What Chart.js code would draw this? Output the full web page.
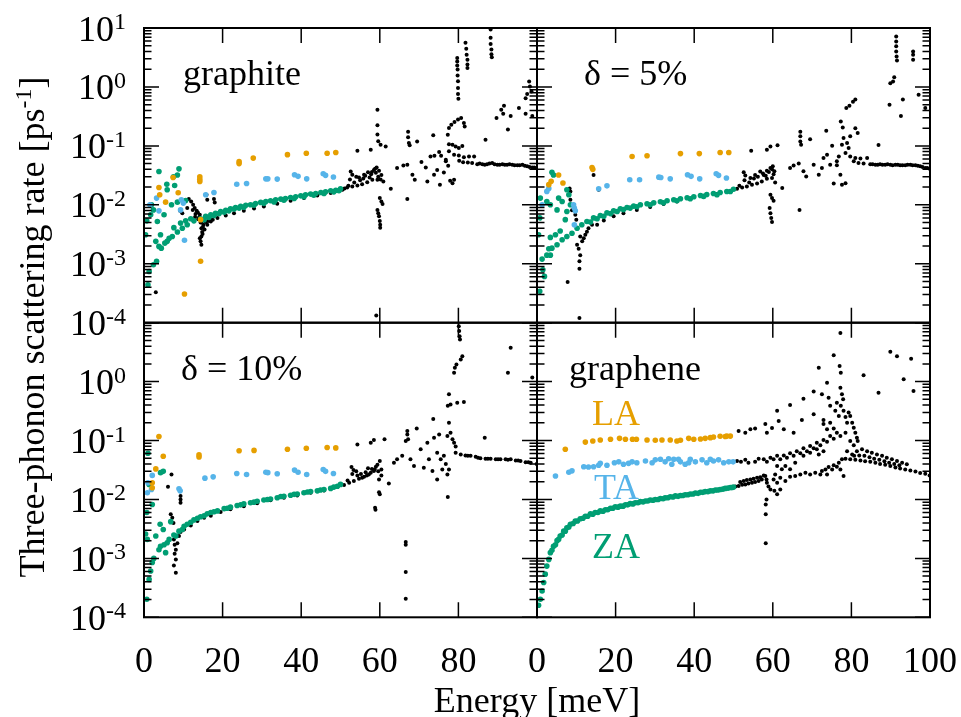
<!DOCTYPE html>
<html>
<head>
<meta charset="utf-8">
<title>Three-phonon scattering rate</title>
<script src="https://cdn.jsdelivr.net/npm/chart.js@4.4.1/dist/chart.umd.min.js"></script>
<style>
  html, body { margin: 0; padding: 0; background: #fff; }
  #page { position: relative; width: 961px; height: 717px; overflow: hidden; }
  #page canvas { position: absolute; left: 0; top: 0; }
</style>
</head>
<body>
<div id="page">
  <canvas id="c-graphite" width="961" height="717"></canvas>
  <canvas id="c-strain5" width="961" height="717"></canvas>
  <canvas id="c-strain10" width="961" height="717"></canvas>
  <canvas id="c-graphene" width="961" height="717"></canvas>
</div>
<script>
// Three-phonon scattering rate vs energy, four panels (graphite, 5%, 10%, graphene)

const LA_COLOR = "#e69f00";
const TA_COLOR = "#56b4e9";
const ZA_COLOR = "#009e73";
const SERIF = "'Liberation Serif', 'Times New Roman', serif";

const X_TICKS = [0, 20, 40, 60, 80, 100];
const X_TICK_LABELS_LEFT = [0, 20, 40, 60, 80];
const X_TICK_LABELS_RIGHT = [0, 20, 40, 60, 80, 100];
const Y_EXPONENTS_TOP = [1, 0, -1, -2, -3, -4];
const Y_EXPONENTS_BOTTOM = [0, -1, -2, -3, -4];

// [energy meV, rate ps^-1]
const graphiteLA = [[3.8,0.0197],[4.0,0.0148],[5.5,0.0111],[7.4,0.029],[8.7,0.016],[10.3,0.000306],[14.2,0.0298],[14.2,0.0272],[14.2,0.0249],[14.4,0.0056],[14.4,0.0011],[24.2,0.054],[24.2,0.050],[27.8,0.062],[36.5,0.071],[41.3,0.075],[46.6,0.075],[48.8,0.077]];
const graphiteTA = [[1.5,0.010],[3.2,0.013],[3.8,0.0079],[9.5,0.0122],[10.0,0.0107],[9.3,0.0082],[10.3,0.0025],[15.7,0.0148],[17.8,0.0162],[23.6,0.0224],[26.1,0.023],[31.0,0.0276],[31.5,0.0276],[33.9,0.0273],[38.3,0.0323],[39.2,0.0304],[41.4,0.0276],[45.6,0.0336],[46.2,0.0316],[48.2,0.0296]];
const graphiteZA = [[3.8,0.0367],[8.9,0.0408],[7.5,0.030],[8.5,0.032],[5.8,0.0224],[5.9,0.018],[7.8,0.0213],[1.9,0.010],[2.4,0.0082],[1.7,0.0068],[0.7,0.00535],[0.4,0.0031],[3.4,0.0052],[5.1,0.0068],[7.0,0.010],[8.5,0.0111],[10.6,0.0118],[4.2,0.0031],[3.0,0.0024],[3.8,0.00197],[5.3,0.00224],[6.4,0.0027],[1.0,0.00044],[1.3,0.00074],[2.4,0.00096],[3.2,0.0011],[4.4,0.00184],[5.9,0.0024],[7.2,0.0029],[8.5,0.00345],[9.75,0.004],[11.0,0.0046],[12.7,0.00535],[7.6,0.0041],[9.3,0.0049],[10.6,0.00535],[11.9,0.0058],
  [14.4,0.0058],[15.7,0.0064],[17.0,0.0068],[18.2,0.0072],[19.5,0.0077],[20.8,0.0081],[22.0,0.0086],[23.3,0.009],[24.6,0.0094],[25.9,0.0098],[27.1,0.0100],[28.4,0.0105],[29.7,0.011],[31.0,0.0114],[32.2,0.0117],[33.5,0.0122],[34.8,0.0125],[36.0,0.0128],[37.3,0.0133],[38.6,0.0137],[39.9,0.0142],[41.1,0.0148],[42.4,0.0152],[43.7,0.0156],[45.0,0.0162],[46.2,0.0166],[47.5,0.0173],[48.8,0.0177],[50.0,0.0187],
  [15.3,0.0056],[16.5,0.0061],[17.8,0.0066],[19.1,0.0071],[20.4,0.0075],[21.6,0.0079],[22.9,0.0085],[24.2,0.0088],[25.4,0.0091],[28.0,0.0099],[30.5,0.0106],[33.1,0.0112],[35.6,0.012],[38.2,0.0128],[40.7,0.0137],[43.2,0.0146],[45.8,0.0156],[48.3,0.0166],[49.6,0.0173]];
const graphiteOther = [[3.0,0.00033],
  [11.4,0.0126],[12.0,0.0114],[12.5,0.010],[12.9,0.0088],[13.4,0.0079],[13.7,0.0074],[14.2,0.0068],[14.8,0.0053],[15.1,0.0046],[14.6,0.004],[14.8,0.00345],[14.6,0.0029],[14.4,0.0024],[14.6,0.0021],[15.7,0.0051],[16.1,0.0046],[16.3,0.0053],[15.9,0.0148],[16.1,0.0122],[17.8,0.0126],[18.0,0.011],[9.2,0.0079],[9.75,0.0072],[11.0,0.0088],[14.0,0.0061],
  [13.0,0.0062],[13.8,0.0057],[14.4,0.0050],[15.0,0.0042],[15.4,0.0038],[14.9,0.0032],[14.2,0.0027],[16.8,0.0058],[17.5,0.0056],[12.4,0.0082],[13.1,0.0070],
  [17.0,0.0052],[18.7,0.006],[20.8,0.0066],[22.9,0.0072],[25.4,0.0079],[28.0,0.0087],[30.5,0.0094],[33.9,0.0104],[37.3,0.0117],[40.7,0.013],[44.1,0.0144],[47.5,0.0158],[50.5,0.018],
  [51.7,0.0197],[53.0,0.0205],[54.3,0.0213],[55.5,0.0224],[56.8,0.0242],[58.1,0.0265],[52.6,0.0367],[53.0,0.0325],[54.7,0.0291],[56.0,0.0325],[57.0,0.0357],[57.8,0.033],[58.5,0.039],[59.2,0.043],[59.8,0.038],[60.4,0.032],[59.4,0.0265],[60.9,0.0249],[62.8,0.0187],[54.3,0.083],[57.7,0.086],
  [51.0,0.019],[52.0,0.021],[52.4,0.027],[53.5,0.024],[54.0,0.030],[55.0,0.026],[55.8,0.028],[56.3,0.031],[57.4,0.029],[58.0,0.036],[58.8,0.041],[59.0,0.035],[59.6,0.030],[60.2,0.027],
  [59.4,0.41],[59.4,0.224],[59.4,0.156],[59.6,0.12],[60.2,0.105],[61.5,0.098],[60.0,0.013],[60.4,0.0114],[60.7,0.0103],[59.4,0.0082],[59.6,0.0072],[59.8,0.0064],[60.0,0.0053],[60.1,0.0046],[60.1,0.0041],[59.1,0.000133],
  [64.4,0.042],[66.0,0.0465],[67.0,0.048],[67.2,0.173],[67.2,0.14],[67.4,0.112],[67.6,0.102],[69.5,0.119],[67.0,0.0126],[68.3,0.0325],[68.9,0.0266],[70.6,0.0535],[71.7,0.043],[72.1,0.0249],[73.6,0.151],[72.9,0.066],[73.9,0.068],[75.1,0.079],[75.6,0.068],[73.8,0.0325],[74.6,0.039],[75.3,0.0218],[76.3,0.0355],[76.8,0.055],[77.4,0.046],[77.9,0.0256],[78.5,0.0233],[78.9,0.0266],
  [77.6,0.202],[78.2,0.229],[79.0,0.255],[79.9,0.279],[80.7,0.297],[81.4,0.245],[81.6,0.214],[77.3,0.155],[77.6,0.107],[78.5,0.105],[79.3,0.098],[80.1,0.092],[81.0,0.10],[77.6,0.081],[78.9,0.071],[80.1,0.069],[81.4,0.064],[82.7,0.066],[84.0,0.066],[76.8,0.058],
  [79.7,3.1],[79.7,2.7],[79.7,2.3],[79.8,1.97],[79.8,1.57],[79.9,1.25],[79.9,0.96],[79.9,0.76],[80.0,0.63],
  [81.8,5.6],[82.0,4.45],[82.1,3.5],[82.3,2.9],[82.3,2.4],[82.3,2.1],
  [88.2,9.4],[88.2,6.8],[88.2,5.35],[88.4,4.3],[88.4,3.6],[88.5,3.2],
  [80.2,0.056],[81.2,0.053],[82.4,0.052],[83.5,0.051],[84.8,0.049],[86.1,0.049],[87.3,0.049],[88.6,0.051],[89.9,0.048],[91.2,0.049],[92.4,0.048],[93.7,0.048],[95.0,0.047],[96.3,0.048],[97.5,0.045],[98.8,0.043],[99.9,0.042],
  [85.4,0.050],[86.7,0.048],[87.9,0.050],[89.2,0.049],[90.5,0.048],[91.8,0.048],[93.0,0.049],[94.3,0.047],[95.6,0.047],[96.9,0.046],[98.1,0.044],[99.3,0.043],
  [86.9,0.127],[89.7,0.297],[90.9,0.41],[91.6,0.48],[91.4,0.35],[92.6,0.19],[93.3,0.32],[95.4,0.44],[97.1,0.35],[97.1,0.64],[97.5,0.76],[98.0,1.24],[98.2,1.02],[98.6,0.84],[98.8,0.32]];

const strain5LA = [[3.0,0.022],[3.6,0.025],[5.5,0.032],[6.6,0.0234],[14.0,0.043],[14.2,0.040],[24.2,0.066],[28.0,0.068],[36.5,0.074],[41.3,0.074],[46.6,0.077],[48.8,0.077]];
const strain5TA = [[1.3,0.010],[2.5,0.0169],[3.0,0.019],[9.3,0.010],[9.5,0.0088],[9.75,0.0079],[9.5,0.0046],[15.7,0.0187],[17.8,0.021],[23.6,0.0266],[26.1,0.0266],[31.0,0.0295],[31.5,0.029],[33.9,0.0276],[38.3,0.0323],[39.2,0.0304],[41.4,0.0276],[45.6,0.0336],[46.2,0.0316],[48.2,0.0285]];
const strain5ZA = [[3.8,0.0357],[4.2,0.032],[0.85,0.013],[0.7,0.0060],[0.4,0.0031],[2.5,0.0114],[3.4,0.010],[5.1,0.0082],[5.5,0.013],[6.4,0.0114],[7.6,0.018],[8.1,0.0148],[8.5,0.010],[7.6,0.0077],[7.2,0.0056],[3.4,0.0028],[4.7,0.0031],[5.9,0.0036],[1.3,0.0012],[1.5,0.00079],[1.9,0.00061],[0.7,0.00034],[2.5,0.0014],[3.4,0.0014],[3.0,0.0018],
  [3.8,0.00184],[5.1,0.0021],[6.4,0.00255],[7.6,0.0029],[8.9,0.0033],[10.2,0.004],[11.4,0.0046],[12.7,0.0052],[14.4,0.006],[16.1,0.0066],[17.8,0.0073],[19.5,0.0079],[21.2,0.0086],[22.9,0.009],[24.6,0.0095],[26.3,0.010],[28.0,0.0104],[29.7,0.0108],[31.4,0.0113],[33.1,0.0117],[34.8,0.0122],[36.5,0.0127],[38.2,0.0132],[39.9,0.0137],[41.6,0.0144],[43.2,0.015],[44.9,0.0156],[46.6,0.0162],[48.3,0.0168],[50.0,0.0184],
  [13.6,0.0051],[15.3,0.0058],[17.0,0.0064],[18.7,0.0071],[20.4,0.0077],[22.0,0.0083],[23.7,0.0088],[25.4,0.0093],[28.8,0.010],[32.2,0.0108],[35.6,0.0117],[39.0,0.0127],[42.4,0.0139],[45.8,0.0148],[49.2,0.0168]];
const strain5Other = [[7.8,0.00049],[10.8,0.00012],[10.8,0.00082],[10.8,0.0011],[11.0,0.0014],[10.6,0.0018],[10.2,0.0021],[11.5,0.0024],[11.9,0.0027],[12.3,0.0031],[11.0,0.0029],[12.7,0.0035],[13.1,0.004],[14.0,0.0046],[10.0,0.0056],[9.75,0.0068],[8.9,0.0081],[8.5,0.0122],[8.5,0.0168],[8.3,0.019],[14.4,0.032],[15.7,0.018],
  [15.3,0.0046],[17.0,0.0054],[19.5,0.0064],[22.0,0.0072],[25.4,0.0082],[28.8,0.0092],[32.2,0.0103],[35.6,0.0114],[39.0,0.0126],[42.4,0.0139],[45.8,0.0152],[49.2,0.0168],
  [50.9,0.0187],[52.2,0.0197],[53.4,0.0205],[54.7,0.0218],[56.0,0.023],[57.2,0.0249],[58.5,0.0276],[52.6,0.0357],[53.0,0.0315],[54.3,0.0285],[55.5,0.032],[56.8,0.0367],[57.7,0.032],[58.5,0.038],[59.4,0.042],[60.0,0.045],[60.4,0.037],[59.8,0.0285],[60.6,0.024],[58.5,0.086],[59.4,0.098],[61.2,0.102],[54.5,0.083],
  [51.5,0.021],[52.8,0.026],[54.0,0.024],[55.2,0.028],[56.2,0.030],[57.5,0.034],[58.2,0.031],[59.0,0.036],[59.8,0.040],[60.2,0.033],
  [59.4,0.0148],[59.8,0.013],[60.2,0.0117],[59.2,0.0088],[59.4,0.0072],[59.6,0.006],[59.8,0.0051],[62.4,0.0192],
  [64.4,0.042],[65.3,0.0465],[66.6,0.050],[67.0,0.173],[67.0,0.145],[67.0,0.119],[67.2,0.105],[69.5,0.13],[66.8,0.0082],[67.8,0.037],[68.5,0.0303],[70.4,0.048],[71.7,0.0325],[72.5,0.042],[73.6,0.18],[72.9,0.062],[73.8,0.071],[75.1,0.101],[74.6,0.048],[75.5,0.023],[76.3,0.055],[77.2,0.0325],[77.6,0.0218],[78.5,0.0233],
  [77.3,0.26],[77.8,0.206],[78.7,0.44],[79.5,0.48],[80.4,0.56],[81.0,0.61],[78.0,0.136],[78.9,0.112],[79.7,0.145],[81.0,0.2],[81.6,0.165],[77.6,0.105],[79.3,0.092],[78.5,0.076],[79.7,0.066],[81.0,0.062],[82.3,0.061],[84.0,0.062],[76.8,0.066],[76.3,0.047],[86.9,0.104],
  [80.6,0.055],[81.8,0.051],[83.1,0.05],[84.8,0.049],[86.1,0.048],[87.3,0.049],[88.6,0.048],[89.9,0.048],[91.2,0.048],[92.4,0.047],[93.7,0.047],[95.0,0.048],[96.3,0.047],[97.5,0.045],[98.8,0.042],[99.9,0.041],
  [85.4,0.049],[86.7,0.048],[87.9,0.048],[89.2,0.049],[90.5,0.047],[91.8,0.048],[93.0,0.047],[94.3,0.048],[95.6,0.047],[96.9,0.046],[98.1,0.044],[99.3,0.042],
  [91.4,7.2],[91.4,5.9],[91.4,4.9],[91.4,4.0],[91.5,3.3],[91.6,2.8],[95.7,4.0],[95.7,3.5],[95.7,2.9],[90.9,1.46],[90.6,1.24],[89.9,1.16],[89.7,0.5],[92.6,0.32],[93.1,0.61],[97.1,0.74],[98.8,0.44]];

const strain10LA = [[3.8,0.117],[4.9,0.054],[3.0,0.033],[2.1,0.0192],[2.1,0.0158],[14.0,0.0525],[14.0,0.057],[24.2,0.067],[28.0,0.068],[36.5,0.071],[41.3,0.074],[46.6,0.076],[48.8,0.075]];
const strain10TA = [[0.85,0.013],[1.9,0.0148],[2.1,0.0256],[1.0,0.0192],[8.9,0.0152],[9.2,0.014],[15.5,0.023],[17.6,0.0242],[23.6,0.0276],[26.1,0.0266],[31.0,0.029],[31.5,0.0285],[33.9,0.0273],[38.3,0.0315],[39.2,0.029],[41.4,0.0266],[45.6,0.0323],[46.2,0.0300],[48.2,0.0276]];
const strain10ZA = [[1.0,0.061],[1.3,0.018],[4.2,0.0285],[4.9,0.030],[0.7,0.006],[2.1,0.0082],[4.1,0.0038],[4.9,0.0031],[6.8,0.0042],[0.4,0.0026],[0.85,0.0021],[3.0,0.0024],[5.5,0.00125],[0.7,0.000202],[1.3,0.00044],[1.7,0.00061],[2.1,0.00085],
  [2.5,0.001],[3.8,0.0014],[5.1,0.0017],[6.4,0.0021],[7.6,0.0025],[8.9,0.0029],[10.2,0.0035],[11.9,0.0041],[13.6,0.0048],[15.3,0.0053],[17.0,0.006],[18.7,0.0064],[20.4,0.0070],[22.0,0.0074],[23.7,0.0079],[25.4,0.0084],[27.1,0.0088],[28.8,0.0093],[30.5,0.0098],[32.2,0.0102],[33.9,0.0107],[35.6,0.0113],[37.3,0.0118],[39.0,0.0124],[40.7,0.013],[42.4,0.0136],[44.1,0.014],[45.8,0.0147],[47.5,0.0154],[49.2,0.0168],[50.0,0.018],
  [4.2,0.0016],[5.9,0.00184],[8.1,0.0024],[9.75,0.0031],[11.0,0.0038],[12.7,0.0045],[14.4,0.0051],[16.1,0.0057],[17.8,0.0062],[21.2,0.0071],[24.6,0.0081],[28.0,0.009],[31.4,0.010],[34.8,0.0112],[38.2,0.0122],[41.6,0.0134],[44.9,0.0145],[48.3,0.0162]];
const strain10Other = [[6.1,0.0164],[7.0,0.0266],[9.3,0.0114],[9.3,0.010],[9.3,0.0088],[6.8,0.0056],[7.2,0.0049],[7.5,0.004],[7.6,0.0021],[7.8,0.0017],[8.1,0.0014],[7.8,0.0012],[8.1,0.00096],[7.6,0.00076],[8.1,0.00057],[8.5,0.0018],[8.9,0.0024],[9.3,0.0028],[10.2,0.0031],
  [11.9,0.0036],[13.6,0.0043],[15.3,0.0049],[17.0,0.0053],[19.5,0.0061],[22.0,0.0068],[25.4,0.0077],[28.8,0.0086],[32.2,0.0097],[35.6,0.0107],[39.0,0.0117],[42.4,0.013],[45.8,0.0142],[49.2,0.0162],
  [50.9,0.0176],[52.2,0.0192],[53.4,0.0205],[54.7,0.0224],[56.0,0.0242],[57.2,0.0266],[58.5,0.0303],[52.8,0.0357],[53.3,0.0315],[54.3,0.0256],[55.5,0.0233],[56.7,0.0256],[57.7,0.0285],[58.7,0.0323],[59.4,0.039],[60.0,0.045],[60.4,0.0323],[60.4,0.0256],[59.8,0.0218],[62.3,0.0187],[59.8,0.0133],[60.0,0.0122],[58.8,0.0072],[58.9,0.0067],[54.3,0.086],[57.7,0.092],[58.5,0.102],[61.2,0.105],
  [51.8,0.021],[53.0,0.027],[54.0,0.030],[55.2,0.027],[56.4,0.029],[57.0,0.034],[58.0,0.033],[59.0,0.036],[59.6,0.030],
  [66.6,0.0019],[66.6,0.0017],[66.6,0.00059],[66.6,0.000207],
  [63.6,0.042],[64.4,0.048],[65.7,0.055],[67.0,0.127],[67.0,0.145],[67.2,0.105],[66.6,0.098],[69.4,0.16],[67.8,0.048],[68.7,0.037],[70.4,0.071],[71.2,0.0345],[72.1,0.092],[72.5,0.048],[73.4,0.0303],[73.8,0.111],[74.6,0.062],[75.1,0.127],[75.5,0.048],[75.9,0.0323],[73.6,0.232],[74.6,0.0218],[76.3,0.055],[76.8,0.040],[77.2,0.0266],[77.3,0.011],[77.6,0.0323],[77.2,0.119],[77.6,0.2],[78.0,0.136],[78.5,0.105],[78.9,0.092],[79.3,0.079],
  [77.6,0.61],[78.0,0.41],[77.3,0.39],[79.7,0.44],[81.4,0.45],[78.9,1.41],[79.1,1.72],[79.5,1.96],[80.6,2.38],[81.0,2.7],[80.1,8.7],[80.2,7.2],[80.3,5.9],[80.4,5.2],[93.3,3.75],[92.6,1.41],[98.8,1.17],[86.7,0.112],
  [79.3,0.062],[80.6,0.058],[81.8,0.056],[83.1,0.055],[84.4,0.053],[85.6,0.05],[86.9,0.049],[88.2,0.049],[89.5,0.048],[90.7,0.048],[92.0,0.048],[93.3,0.048],[94.6,0.046],[95.8,0.045],[97.1,0.043],[98.4,0.042],[99.9,0.040],
  [82.4,0.055],[85.0,0.051],[87.5,0.049],[90.1,0.048],[92.6,0.047],[95.2,0.046],[97.8,0.043]];

const grapheneLA = [[7.2,0.071],[12.3,0.094],[14.2,0.098],[16.1,0.102],[18.7,0.105],[21.0,0.109],[22.5,0.105],[24.3,0.105],[25.3,0.105],[28.0,0.102],[30.1,0.101],[31.8,0.102],[33.9,0.102],[35.6,0.098],[36.5,0.101],[38.6,0.109],[39.9,0.105],[41.6,0.106],[42.8,0.109],[44.1,0.112],[44.9,0.115],[46.6,0.118],[47.9,0.117],[48.3,0.119],[49.2,0.119]];
const grapheneTA = [[4.7,0.025],[8.1,0.029],[8.9,0.0306],[11.9,0.036],[13.1,0.0356],[14.4,0.036],[15.7,0.038],[16.1,0.041],[17.8,0.038],[19.7,0.042],[20.8,0.0435],[22.0,0.0395],[23.3,0.041],[24.2,0.0435],[25.4,0.042],[27.6,0.045],[29.3,0.042],[30.1,0.047],[31.4,0.048],[32.6,0.0435],[33.5,0.049],[34.3,0.0395],[34.8,0.048],[36.0,0.048],[36.5,0.0435],[37.7,0.0395],[38.6,0.042],[39.0,0.048],[40.3,0.0435],[42.0,0.047],[43.2,0.042],[44.1,0.048],[44.9,0.045],[46.2,0.047],[47.5,0.042],[48.8,0.0435],[49.9,0.0435]];
const grapheneZA = [[0.4,0.00016],[0.85,0.000202],[1.3,0.00028],[1.7,0.00039],[2.1,0.00054],[2.5,0.00074],[3.0,0.00096],[3.4,0.00125],[4.2,0.0016],[5.1,0.002],[5.9,0.0024],[6.8,0.0029],[7.6,0.0033],[8.5,0.0038],[9.75,0.0043],[11.0,0.0047],[12.3,0.0052],[13.6,0.0057],[14.8,0.006],[16.1,0.0064],[17.4,0.0067],[18.7,0.0071],[19.9,0.0075],[21.2,0.0077],[22.5,0.0081],[23.7,0.0085],[25.0,0.0088],[26.3,0.0092],[27.6,0.0094],[28.8,0.0098],[30.1,0.010],[31.4,0.0104],[32.6,0.0107],[33.9,0.0111],[35.2,0.0115],[36.5,0.0117],[37.7,0.012],[39.0,0.0124],[40.3,0.0129],[41.6,0.0132],[42.8,0.0136],[44.1,0.014],[45.4,0.0145],[46.6,0.0148],[47.9,0.0154],[49.2,0.016],[50.0,0.0162],
  [3.8,0.00137],[4.7,0.0017],[5.5,0.0021],[6.4,0.0025],[7.2,0.0029],[8.1,0.0034],[9.2,0.0039],[10.3,0.0043],[11.7,0.0048],[12.9,0.0052],[14.2,0.0056],[15.5,0.006],[16.8,0.0063],[18.0,0.0067],[19.3,0.0071],[20.6,0.0074],[21.9,0.0077],[23.1,0.0081],[24.4,0.0084],[25.7,0.0088],[27.0,0.0091],[28.2,0.0094],[29.5,0.0097],[30.8,0.010],[32.1,0.0103],[33.3,0.0107],[34.6,0.011],[35.9,0.0113],[37.1,0.0117],[38.4,0.012],[39.7,0.0124],[41.0,0.0127],[42.2,0.0132],[43.5,0.0136],[44.8,0.014],[46.0,0.0145],[47.3,0.015],[48.6,0.0156],[49.6,0.016]];
const grapheneOther = [[50.5,0.0166],[51.3,0.017],[52.2,0.0178],[53.0,0.018],[53.8,0.0187],[54.7,0.0192],[55.5,0.0197],[56.4,0.0205],[57.2,0.0218],[58.1,0.0249],[51.7,0.0197],[52.6,0.0205],[53.4,0.0213],[54.3,0.0218],[55.1,0.0224],[56.0,0.0233],[56.8,0.0238],[57.7,0.0256],[58.4,0.0218],[58.5,0.0192],[58.9,0.0166],[58.4,0.010],[58.2,0.0082],[58.2,0.0056],[58.2,0.0018],
  [50.9,0.045],[51.9,0.0435],[53.0,0.047],[53.8,0.042],[55.5,0.0435],[56.4,0.049],[57.7,0.048],[58.5,0.0435],[59.4,0.051],[60.2,0.048],[61.1,0.055],[61.9,0.048],[62.8,0.056],[63.6,0.051],[64.4,0.061],[65.3,0.055],[66.1,0.066],[67.0,0.061],[67.8,0.074],[68.7,0.066],[69.5,0.081],[70.4,0.074],[71.2,0.092],[72.1,0.083],[72.9,0.102],[73.8,0.095],[74.6,0.119],[75.5,0.107],[76.3,0.136],[77.2,0.119],
  [61.1,0.037],[62.3,0.0325],[60.6,0.0266],[63.2,0.037],[64.4,0.0325],[65.7,0.042],[67.8,0.055],[69.5,0.062],[71.2,0.071],[71.7,0.058],[72.9,0.066],
  [60.2,0.0218],[61.1,0.0192],[61.9,0.0233],[63.2,0.0205],[64.4,0.0242],[65.7,0.0249],[67.0,0.0266],[68.3,0.0285],[69.5,0.0266],[70.8,0.0285],[72.1,0.0266],[72.5,0.0303],[73.4,0.0323],[73.8,0.0266],[74.2,0.0357],[75.1,0.0323],[75.5,0.038],[76.3,0.036],[76.8,0.042],[77.2,0.0323],[77.6,0.048],[78.0,0.0249],[60.4,0.014],[61.1,0.0122],[59.4,0.0148],[61.9,0.0148],
  [51.3,0.145],[53.0,0.136],[54.3,0.155],[55.5,0.16],[58.1,0.19],[58.5,0.136],[59.8,0.164],[61.5,0.214],[62.8,0.155],[64.4,0.4],[65.3,0.136],[67.4,0.224],[67.8,0.51],[61.1,0.32],[70.4,0.68],[70.4,0.28],[71.7,1.72],[72.5,0.61],[72.9,0.224],[73.8,0.96],[74.2,0.53],[74.6,0.39],[75.5,2.8],[75.9,0.32],[76.3,0.44],[76.8,0.26],[77.0,1.84],[77.3,1.41],[77.2,0.79],[77.6,0.61],[77.9,0.5],[77.2,6.7],[77.3,0.39],[78.0,0.32],[78.5,0.25],[78.9,0.2],[79.3,0.3],[79.7,0.26],[80.2,0.2],[80.6,0.165],[81.0,0.136],[81.4,0.112],[81.6,0.098],[79.7,0.098],[80.6,0.083],[78.9,0.066],[78.5,0.136],[75.5,0.16],[74.6,0.2],[73.8,0.155],[72.9,0.19],
  [83.1,1.28],[86.9,0.65],[89.9,3.2],[91.6,2.7],[93.3,1.1],[95.2,2.45],[95.8,0.69],
  [78.5,0.049],[79.7,0.048],[81.0,0.047],[82.3,0.046],[83.5,0.0445],[84.8,0.0435],[86.1,0.042],[87.3,0.040],[88.6,0.039],[89.9,0.037],[91.2,0.035],[92.4,0.0335],[93.7,0.0323],[95.0,0.031],[96.3,0.0297],[97.5,0.028],[98.8,0.0272],[99.9,0.0256],
  [80.2,0.058],[81.4,0.066],[82.7,0.071],[84.0,0.066],[85.2,0.062],[86.5,0.058],[87.8,0.055],[89.0,0.051],[90.3,0.048],[91.6,0.045],[92.9,0.042],[94.1,0.0395],
  [80.7,0.055],[82.0,0.056],[83.3,0.055],[84.6,0.052],[85.8,0.049],[87.1,0.047],[88.4,0.0445],[89.6,0.042],[90.9,0.040],[92.2,0.038]];

const panelFrame = {
  id: "panelFrame",
  afterDatasetsDraw(chart, args, opts) {
    const { ctx, chartArea: a } = chart;
    const xs = chart.scales.x;
    const ys = chart.scales.y;
    ctx.save();
    ctx.strokeStyle = "#000";
    ctx.fillStyle = "#000";
    ctx.lineWidth = 1.5;
    ctx.beginPath();
    for (const v of X_TICKS) {
      const px = xs.getPixelForValue(v);
      ctx.moveTo(px, a.bottom); ctx.lineTo(px, a.bottom - 15);
      ctx.moveTo(px, a.top); ctx.lineTo(px, a.top + 15);
    }
    for (let e = -4; e <= 1; e++) {
      const py = ys.getPixelForValue(Math.pow(10, e));
      ctx.moveTo(a.left, py); ctx.lineTo(a.left + 15, py);
      ctx.moveTo(a.right, py); ctx.lineTo(a.right - 15, py);
      if (e === 1) continue;
      for (let m = 2; m <= 9; m++) {
        const pm = ys.getPixelForValue(m * Math.pow(10, e));
        ctx.moveTo(a.left, pm); ctx.lineTo(a.left + 7.5, pm);
        ctx.moveTo(a.right, pm); ctx.lineTo(a.right - 7.5, pm);
      }
    }
    ctx.stroke();
    ctx.lineWidth = 2;
    ctx.strokeRect(a.left, a.top, a.right - a.left, a.bottom - a.top);

    ctx.textBaseline = "alphabetic";
    // y tick labels 10^n
    for (const e of opts.yExponents || []) {
      const py = ys.getPixelForValue(Math.pow(10, e));
      ctx.textAlign = "right";
      ctx.font = "24px " + SERIF;
      const sup = String(e);
      const w = ctx.measureText(sup).width;
      ctx.fillText(sup, a.left - 18, py + 1);
      ctx.font = "36px " + SERIF;
      ctx.fillText("10", a.left - 18 - w, py + 12.5);
    }
    // x tick labels
    ctx.textAlign = "center";
    ctx.font = "36px " + SERIF;
    for (const v of opts.xLabels || []) {
      ctx.fillText(String(v), xs.getPixelForValue(v), a.bottom + 55);
    }
    // panel annotations
    ctx.textAlign = "left";
    for (const n of opts.notes || []) {
      ctx.fillStyle = n.color;
      ctx.fillText(n.text, a.left + n.dx, a.top + n.dy);
    }
    if (opts.axisTitles) drawAxisTitles(ctx);
    ctx.restore();
  }
};

function drawAxisTitles(ctx) {
  ctx.fillStyle = "#000";
  ctx.textAlign = "center";
  ctx.font = "36px " + SERIF;
  ctx.fillText("Energy [meV]", 537, 712);

  ctx.save();
  ctx.translate(44, 327);
  ctx.rotate(-Math.PI / 2);
  ctx.textAlign = "left";
  const main = "Three-phonon scattering rate [ps";
  ctx.font = "36px " + SERIF;
  const w1 = ctx.measureText(main).width;
  const w3 = ctx.measureText("]").width;
  ctx.font = "24px " + SERIF;
  const w2 = ctx.measureText("-1").width;
  let x0 = -(w1 + w2 + w3) / 2;
  ctx.font = "36px " + SERIF;
  ctx.fillText(main, x0, 0);
  ctx.font = "24px " + SERIF;
  ctx.fillText("-1", x0 + w1, -13);
  ctx.font = "36px " + SERIF;
  ctx.fillText("]", x0 + w1 + w2, 0);
  ctx.restore();
}

function pts(list) {
  return list.map(([x, y]) => ({ x, y }));
}

function panelChart(id, rect, series, frameOpts) {
  const [left, top, right, bottom] = rect;
  return new Chart(document.getElementById(id), {
    type: "scatter",
    data: {
      datasets: [
        { label: "other", data: pts(series.other), backgroundColor: "#000", pointRadius: 2.0, order: 4 },
        { label: "ZA", data: pts(series.za), backgroundColor: ZA_COLOR, pointRadius: 2.8, order: 3 },
        { label: "TA", data: pts(series.ta), backgroundColor: TA_COLOR, pointRadius: 2.8, order: 2 },
        { label: "LA", data: pts(series.la), backgroundColor: LA_COLOR, pointRadius: 2.8, order: 1 },
      ],
    },
    options: {
      responsive: false,
      animation: false,
      devicePixelRatio: 1,
      layout: { padding: { left: left, top: top, right: 961 - right, bottom: 717 - bottom } },
      elements: { point: { borderWidth: 0, hoverRadius: 0, hitRadius: 0 } },
      scales: {
        x: { type: "linear", min: 0, max: 100, display: false },
        y: { type: "logarithmic", min: 1e-4, max: 10, display: false },
      },
      plugins: { legend: { display: false }, tooltip: { enabled: false }, panelFrame: frameOpts },
    },
    plugins: [panelFrame],
  });
}

const MID_X = 537, MID_Y = 322.7;

panelChart("c-graphite", [144, 28, MID_X, MID_Y],
  { la: graphiteLA, ta: graphiteTA, za: graphiteZA, other: graphiteOther },
  { yExponents: Y_EXPONENTS_TOP, notes: [{ text: "graphite", color: "#000", dx: 39, dy: 57 }] });

panelChart("c-strain5", [MID_X, 28, 930, MID_Y],
  { la: strain5LA, ta: strain5TA, za: strain5ZA, other: strain5Other },
  { notes: [{ text: "δ = 5%", color: "#000", dx: 47, dy: 57 }] });

panelChart("c-strain10", [144, MID_Y, MID_X, 617.3],
  { la: strain10LA, ta: strain10TA, za: strain10ZA, other: strain10Other },
  { yExponents: Y_EXPONENTS_BOTTOM, xLabels: X_TICK_LABELS_LEFT, axisTitles: true,
    notes: [{ text: "δ = 10%", color: "#000", dx: 37, dy: 57 }] });

panelChart("c-graphene", [MID_X, MID_Y, 930, 617.3],
  { la: grapheneLA, ta: grapheneTA, za: grapheneZA, other: grapheneOther },
  { xLabels: X_TICK_LABELS_RIGHT,
    notes: [
      { text: "graphene", color: "#000", dx: 32, dy: 57 },
      { text: "LA", color: LA_COLOR, dx: 55, dy: 102 },
      { text: "TA", color: TA_COLOR, dx: 57, dy: 176 },
      { text: "ZA", color: ZA_COLOR, dx: 55, dy: 235 },
    ] });
</script>
</body>
</html>
